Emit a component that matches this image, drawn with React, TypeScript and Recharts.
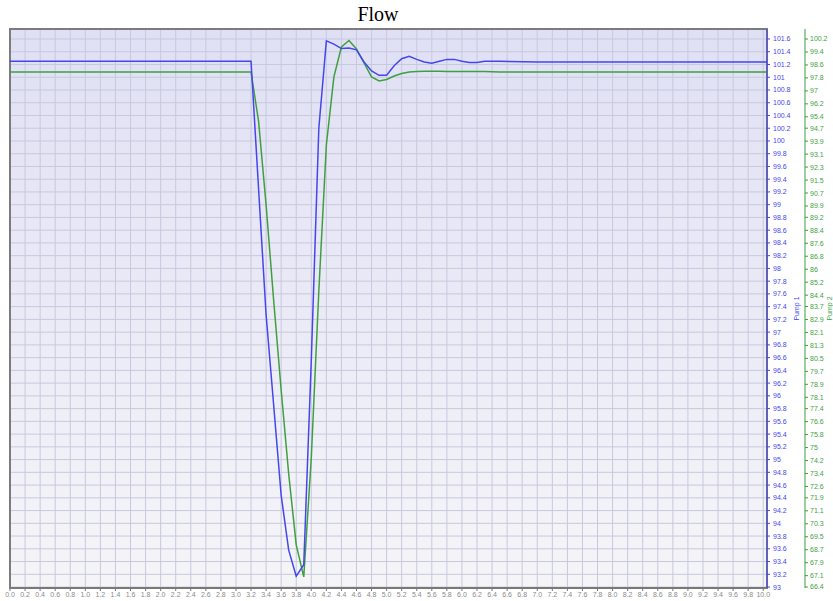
import React from 'react';
import {
  LineChart,
  Line,
  XAxis,
  YAxis,
  CartesianGrid,
  ReferenceArea,
} from 'recharts';

// sample times (s)
const times = [
  0, 0.5, 1, 1.5, 2, 2.5, 3, 3.1, 3.2, 3.3, 3.4, 3.5, 3.6, 3.7, 3.8, 3.9,
  4.0, 4.1, 4.2, 4.3, 4.4, 4.5, 4.6, 4.7, 4.8, 4.9, 5.0, 5.1, 5.2, 5.3, 5.4,
  5.5, 5.6, 5.7, 5.8, 5.9, 6.0, 6.1, 6.2, 6.3, 6.4, 6.5, 7, 7.5, 8, 8.5, 9,
  9.5, 10.05,
];

const pump1 = [
  101.25, 101.25, 101.25, 101.25, 101.25, 101.25, 101.25, 101.25, 101.25,
  99.25, 97.27, 95.86, 94.44, 93.58, 93.17, 93.35,
  96.56, 100.2, 101.57, 101.52, 101.45, 101.46, 101.43, 101.24, 101.1, 101.03,
  101.03, 101.18, 101.29, 101.33, 101.28,
  101.24, 101.22, 101.25, 101.28, 101.28, 101.25, 101.23, 101.23, 101.25,
  101.25, 101.25, 101.24, 101.24, 101.24, 101.24, 101.24, 101.24, 101.24,
];

const pump2 = [
  98.16, 98.16, 98.16, 98.16, 98.16, 98.16, 98.16, 98.16, 98.16,
  95.14, 89.96, 84.1, 78.55, 73.37, 69.0, 67.02,
  74.36, 84.66, 93.66, 97.86, 99.71, 100.11, 99.58, 98.72, 97.86, 97.61,
  97.7, 97.92, 98.07, 98.16, 98.2,
  98.21, 98.21, 98.21, 98.2, 98.2, 98.2, 98.19, 98.19, 98.19,
  98.18, 98.17, 98.17, 98.16, 98.16, 98.16, 98.16, 98.16, 98.16,
];

const xTicks = [
  0, 0.2, 0.4, 0.6, 0.8, 1, 1.2, 1.4, 1.6, 1.8, 2, 2.2, 2.4, 2.6, 2.8, 3,
  3.2, 3.4, 3.6, 3.8, 4, 4.2, 4.4, 4.6, 4.8, 5, 5.2, 5.4, 5.6, 5.8, 6, 6.2,
  6.4, 6.6, 6.8, 7, 7.2, 7.4, 7.6, 7.8, 8, 8.2, 8.4, 8.6, 8.8, 9, 9.2, 9.4,
  9.6, 9.8, 10,
];

const pump1Ticks = [
  93, 93.2, 93.4, 93.6, 93.8, 94, 94.2, 94.4, 94.6, 94.8, 95, 95.2, 95.4,
  95.6, 95.8, 96, 96.2, 96.4, 96.6, 96.8, 97, 97.2, 97.4, 97.6, 97.8, 98,
  98.2, 98.4, 98.6, 98.8, 99, 99.2, 99.4, 99.6, 99.8, 100, 100.2, 100.4,
  100.6, 100.8, 101, 101.2, 101.4, 101.6,
];

const pump2Ticks = [
  66.4, 67.1, 67.9, 68.7, 69.5, 70.3, 71.1, 71.9, 72.6, 73.4, 74.2, 75, 75.8,
  76.6, 77.4, 78.1, 78.9, 79.7, 80.5, 81.3, 82.1, 82.9, 83.7, 84.4, 85.2, 86,
  86.8, 87.6, 88.4, 89.2, 89.9, 90.7, 91.5, 92.3, 93.1, 93.9, 94.7, 95.4,
  96.2, 97, 97.8, 98.6, 99.4, 100.2,
];

const data = times.map((t, i) => ({ t, pump1: pump1[i], pump2: pump2[i] }));

const BLUE = '#4646ee';
const GREEN = '#3f9f3f';

export default function App() {
  return (
    <div
      style={{
        position: 'absolute',
        left: 0,
        top: 0,
        width: 833,
        height: 601,
        background: '#fff',
        fontFamily: 'Liberation Sans, Arial, sans-serif',
      }}
    >
      <div
        style={{
          position: 'absolute',
          left: 0,
          top: 2,
          width: 756,
          textAlign: 'center',
          fontFamily: 'Liberation Serif, Times New Roman, serif',
          fontSize: 20,
          lineHeight: '24px',
        }}
      >
        Flow
      </div>
      <LineChart
        width={833}
        height={601}
        data={data}
        margin={{ top: 29, right: 0, bottom: 0, left: 10 }}
      >
        <defs>
          <linearGradient id="plotBg" x1="0" y1="0" x2="0" y2="1">
            <stop offset="0%" stopColor="#e0e0f5" />
            <stop offset="100%" stopColor="#f5f5f8" />
          </linearGradient>
        </defs>
        <CartesianGrid
          yAxisId="p1"
          stroke="#c8c8de"
          strokeWidth={1}
          fill="url(#plotBg)"
          fillOpacity={1}
        />
        <XAxis
          dataKey="t"
          type="number"
          domain={[0, 10.05]}
          ticks={xTicks}
          allowDataOverflow
          interval={0}
          height={13}
          tickSize={3}
          tickMargin={1}
          tickFormatter={(v: number) => v.toFixed(1)}
          tick={{ fontSize: 7, fill: '#8a8a8a' }}
          stroke="#777"
        />
        <YAxis
          yAxisId="p1"
          orientation="right"
          type="number"
          domain={[92.985, 101.757]}
          ticks={pump1Ticks}
          allowDataOverflow
          interval={0}
          width={38}
          tickSize={3}
          tickMargin={3}
          stroke={BLUE}
          tick={{ fontSize: 7, fill: BLUE }}
          label={{ value: 'Pump 1', angle: -90, position: 'center', dx: 11, fontSize: 7, fill: BLUE }}
        />
        <YAxis
          yAxisId="p2"
          orientation="right"
          type="number"
          domain={[66.338, 100.817]}
          ticks={pump2Ticks}
          allowDataOverflow
          interval={0}
          width={28}
          tickSize={3}
          tickMargin={2}
          stroke={GREEN}
          tick={{ fontSize: 7, fill: GREEN }}
          label={{ value: 'Pump 2', angle: -90, position: 'center', dx: 11, fontSize: 7, fill: GREEN }}
        />
        <ReferenceArea
          yAxisId="p1"
          x1={0}
          x2={10.05}
          y1={92.985}
          y2={101.757}
          fill="none"
          stroke="#7c7c7c"
          strokeWidth={2}
        />
        <Line
          yAxisId="p2"
          type="linear"
          dataKey="pump2"
          stroke={GREEN}
          strokeWidth={1.5}
          dot={false}
          isAnimationActive={false}
        />
        <Line
          yAxisId="p1"
          type="linear"
          dataKey="pump1"
          stroke={BLUE}
          strokeWidth={1.5}
          dot={false}
          isAnimationActive={false}
        />
      </LineChart>
    </div>
  );
}
